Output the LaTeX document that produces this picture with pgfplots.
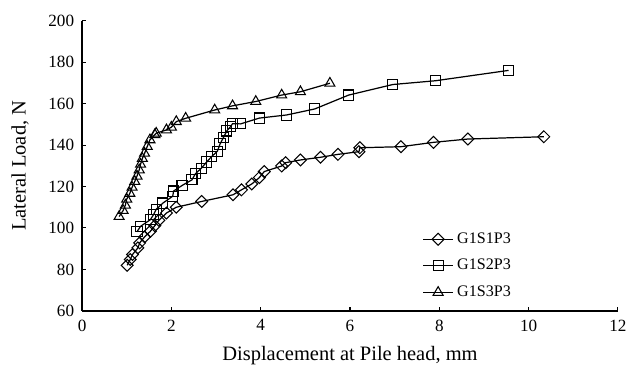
\documentclass[border=0pt]{standalone}
\usepackage{fontspec}
\setmainfont{Liberation Serif}
\usepackage{pgfplots}
\pgfplotsset{compat=1.18}
\begin{document}
\begin{tikzpicture}
\begin{axis}[
  width=306.3pt, height=165.9pt, scale only axis,
  xmin=0, xmax=12, ymin=60, ymax=200,
  xtick={0,2,...,12}, ytick={60,80,...,200},
  axis x line*=bottom, axis y line*=left,
  axis line style={-, line width=0.8pt},
  tick align=inside, major tick length=2.5pt,
  tick style={black, line width=0.6pt},
  /pgf/number format/assume math mode=true,
  tick label style={font=\fontsize{9.8}{11}\selectfont},
  xticklabel style={yshift=-1.5pt},
  yticklabel style={xshift=-1pt},
  xlabel={Displacement at Pile head, mm},
  ylabel={Lateral Load, N},
  xlabel style={at={(axis description cs:0.5,-0.155)}, anchor=center, font=\fontsize{11.7}{13}\selectfont},
  ylabel style={at={(axis description cs:-0.1156,0.5)}, anchor=center, rotate=0, font=\fontsize{11.7}{13}\selectfont},
  legend style={draw=none, fill=none, at={(0.625,0.295)}, anchor=north west, font=\fontsize{9.2}{11}\selectfont, row sep=3.6pt, cells={anchor=west}},
  every axis plot/.append style={black, line width=0.7pt},
]
\addplot[mark=square, mark size=2.4pt, mark options={rotate=45, fill=white, solid, line width=0.6pt}] coordinates {
(1.01,82) (1.08,84.8) (1.13,87.2) (1.25,90.4) (1.29,92.8) (1.40,95.7) (1.53,98.4)
(1.63,101.1) (1.72,103.7) (1.89,107.2) (2.11,110) (2.68,112.8) (3.38,116) (3.57,118.4)
(3.80,121.2) (3.97,124.3) (4.08,127.2) (4.47,129.9) (4.56,131.5) (4.89,132.8) (5.34,134.1)
(5.73,135.5) (6.20,136.8) (6.22,138.7) (7.14,139.2) (7.87,141.3) (8.64,142.9) (10.34,144)
};
\addlegendentry{G1S1P3}
\addplot[mark=square, mark size=2.9pt, mark options={fill=white, solid, line width=0.6pt}] coordinates {
(1.23,98.2) (1.31,100.8) (1.53,104) (1.60,106.4) (1.66,109) (1.81,112) (2.03,115.3)
(2.05,117.8) (2.24,120.5) (2.46,123.2) (2.54,126.2) (2.67,128.8) (2.79,131.8) (2.90,134.4)
(3.03,137) (3.09,140.5) (3.17,143.8) (3.24,146.8) (3.33,149) (3.37,150.3) (3.55,150.2)
(3.97,153) (4.58,154.5) (5.21,157.4) (5.97,164.1) (6.96,169.2) (7.91,171) (9.55,176)
};
\addlegendentry{G1S2P3}
\addplot[mark=triangle, mark size=3.3pt, mark options={fill=white, solid, line width=0.6pt}] coordinates {
(0.83,105.5) (0.92,108.4) (0.97,111) (1.00,113.9) (1.07,116.7) (1.12,119.6) (1.18,122.4)
(1.23,125) (1.28,128) (1.31,130.7) (1.35,133.5) (1.40,136) (1.46,139.3) (1.52,142.5)
(1.63,145) (1.66,145.7) (1.89,147.3) (2.00,148.6) (2.11,151.3) (2.32,152.9) (2.97,156.9)
(3.37,158.9) (3.89,161) (4.47,164.1) (4.89,165.7) (5.55,169.8)
};
\addlegendentry{G1S3P3}
\end{axis}
\pgfresetboundingbox
\useasboundingbox ([xshift=-46.9pt,yshift=-34.3pt]current axis.south west) rectangle ([xshift=14.9pt,yshift=11.8pt]current axis.north east);
\end{tikzpicture}
\end{document}
